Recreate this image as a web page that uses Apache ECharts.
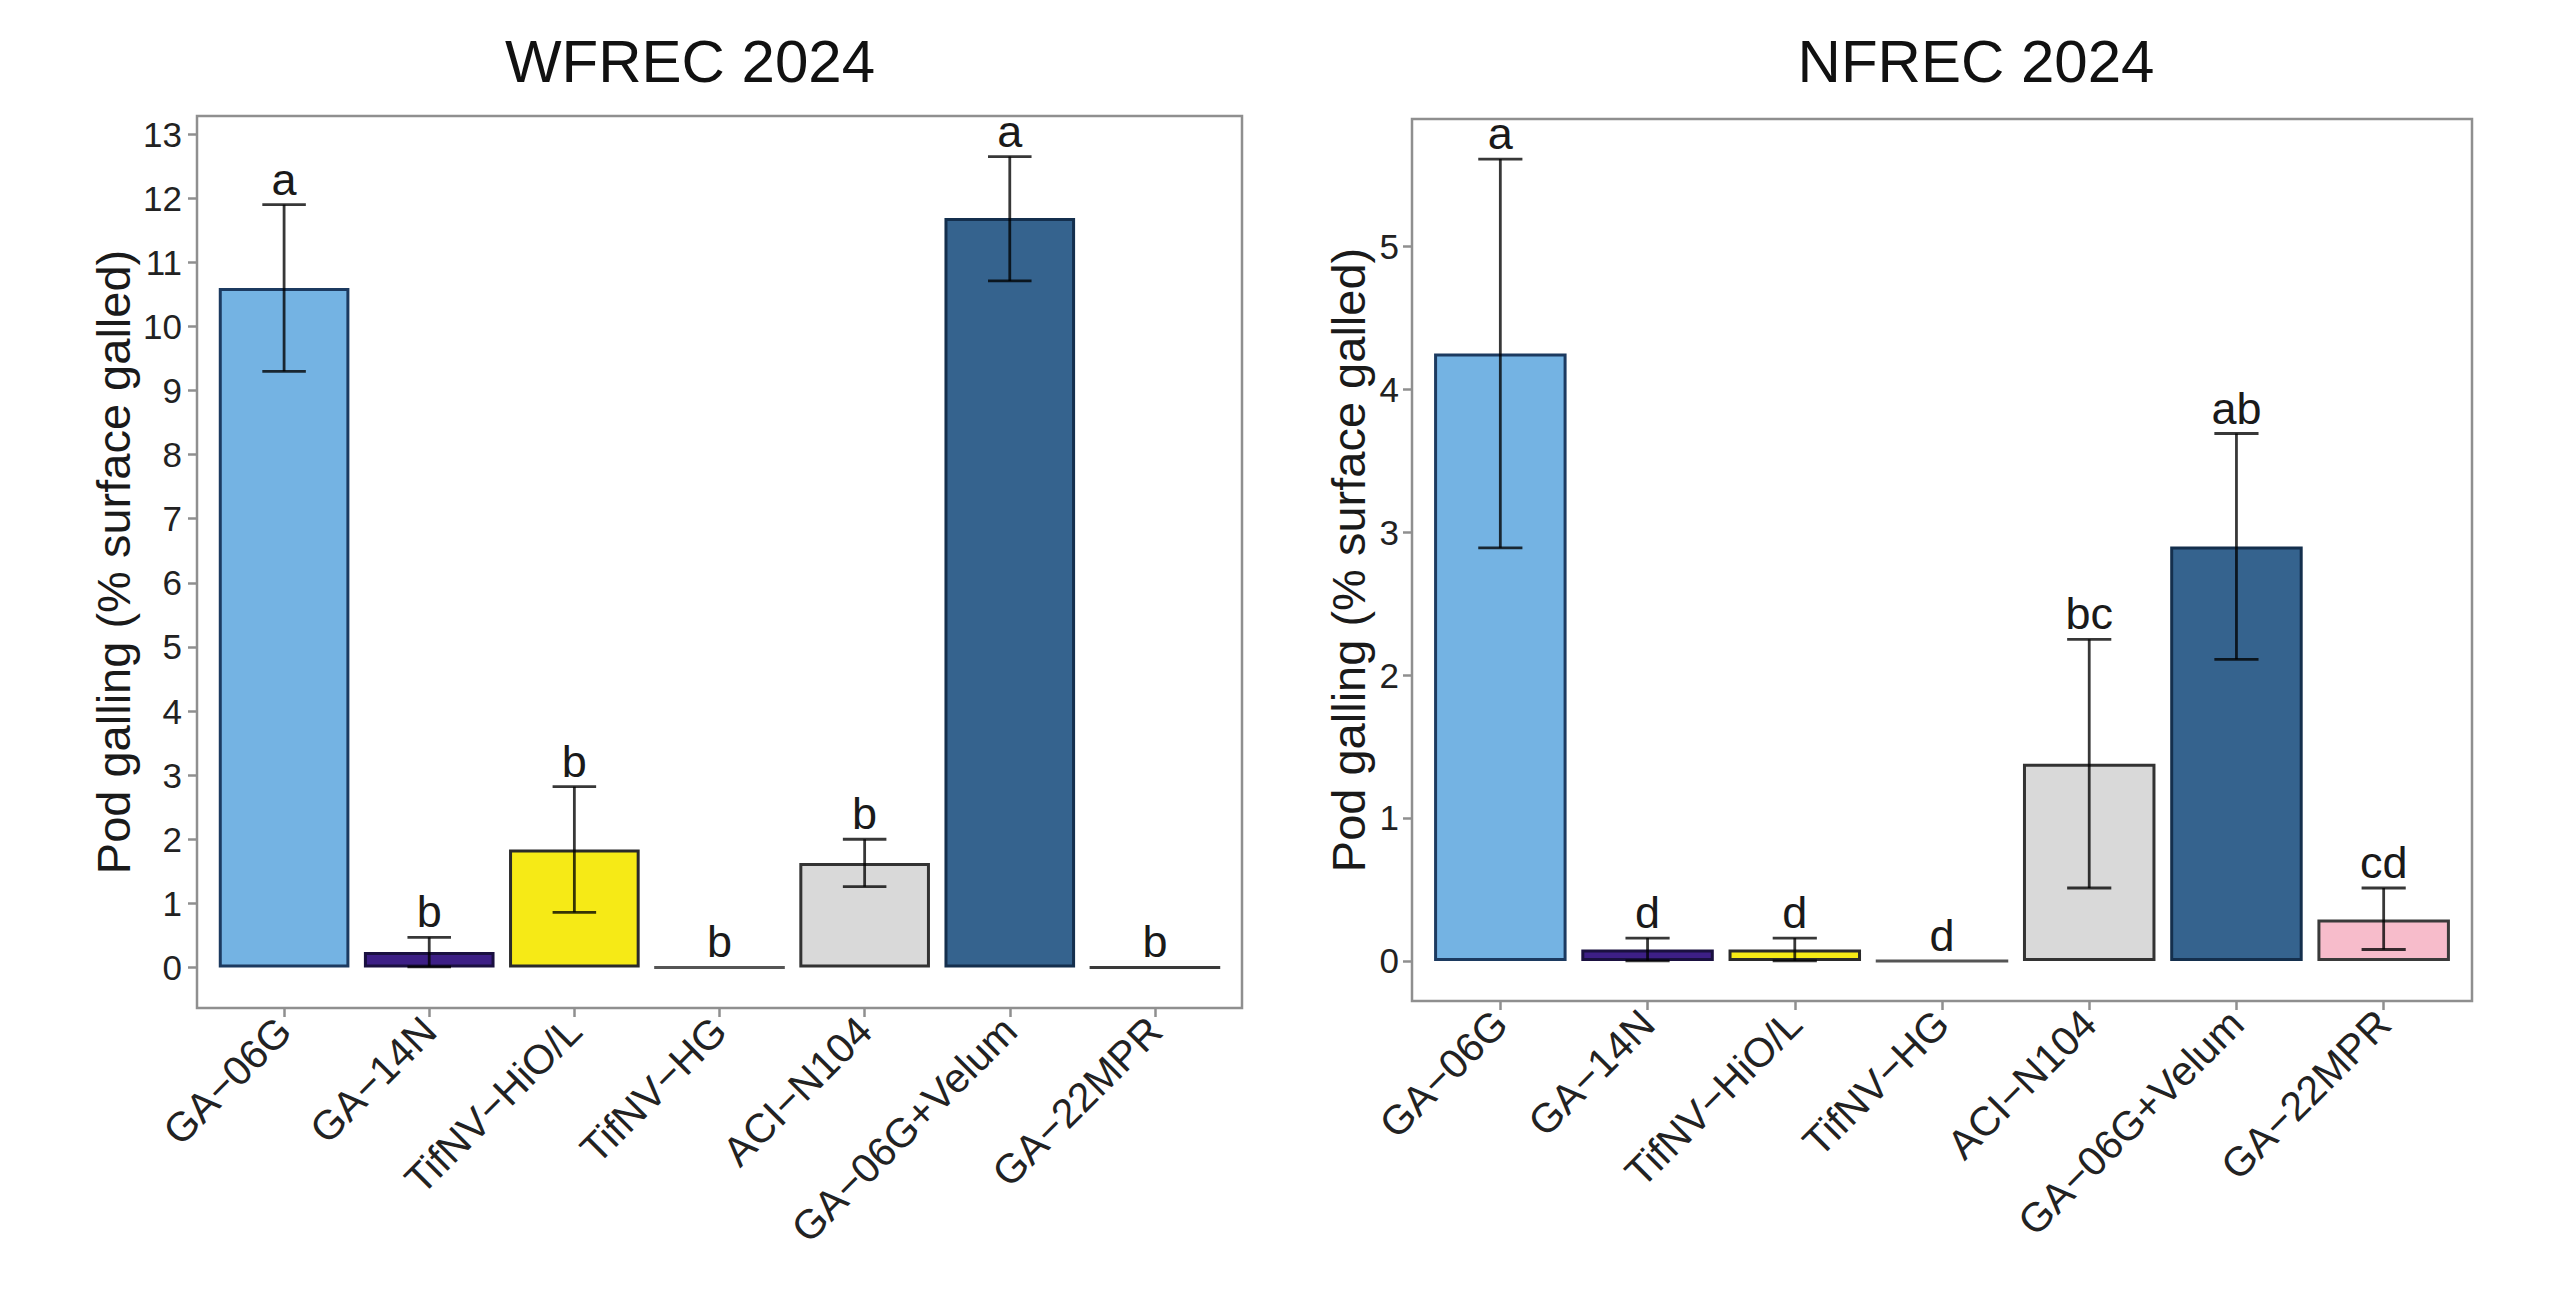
<!DOCTYPE html>
<html>
<head>
<meta charset="utf-8">
<script src="https://cdn.jsdelivr.net/npm/echarts@6/dist/echarts.min.js"></script>
<style>
html,body{margin:0;padding:0;background:#ffffff;}
#chart{width:2560px;height:1289px;}
</style>
</head>
<body>
<div id="chart"></div>
<script>
// ---- data ----
const categories = ['GA\u221206G', 'GA\u221214N', 'TifNV\u2212HiO/L', 'TifNV\u2212HG', 'ACI\u2212N104', 'GA\u221206G+Velum', 'GA\u221222MPR'];

const wfrecMean    = [10.6, 0.24, 1.84, 0, 1.63, 11.69, 0];
const wfrecUpper   = [11.9, 0.47, 2.82, 0, 2.00, 12.65, 0];
const wfrecLower   = [9.3, 0.01, 0.86, 0, 1.26, 10.71, 0];
const wfrecLetters = ['a', 'b', 'b', 'b', 'b', 'a', 'b'];
const wfrecTicks   = [0, 1, 2, 3, 4, 5, 6, 7, 8, 9, 10, 11, 12, 13];

const nfrecMean    = [4.25, 0.08, 0.08, 0, 1.38, 2.90, 0.29];
const nfrecUpper   = [5.61, 0.16, 0.16, 0, 2.25, 3.69, 0.51];
const nfrecLower   = [2.89, 0.00, 0.00, 0, 0.51, 2.11, 0.08];
const nfrecLetters = ['a', 'd', 'd', 'd', 'bc', 'ab', 'cd'];
const nfrecTicks   = [0, 1, 2, 3, 4, 5];

const panelTitles = ['WFREC 2024', 'NFREC 2024'];
const yTitle = 'Pod galling (% surface galled)';

// ---- styles ----
const fills   = ['#74b3e3', '#3d1f86', '#f6ea16', '#d9d9d9', '#d9d9d9', '#35638e', '#f7bccb'];
const borders = ['#1c3a60', '#1a1040', '#2a2a2a', '#555555', '#333333', '#142f4d', '#3a3a3a'];
const FONT = '"Liberation Sans", Arial, Helvetica, sans-serif';
const BOX = '#8f8f8f';

function range(upper) {
  const top = Math.max.apply(null, upper);
  const pad = top * 0.05;
  return [-pad, top + pad];
}

const catIdx = categories.map((c, i) => i);

const panels = [
  {mean: wfrecMean, upper: wfrecUpper, lower: wfrecLower, letters: wfrecLetters, ticks: wfrecTicks,
   grid: {left: 197, top: 116, width: 1045, height: 892}, nameGap: 60, labelMargin: 15},
  {mean: nfrecMean, upper: nfrecUpper, lower: nfrecLower, letters: nfrecLetters, ticks: nfrecTicks,
   grid: {left: 1412, top: 119, width: 1060, height: 882}, nameGap: 40, labelMargin: 13}
];

const grids = [], xAxes = [], yAxes = [], series = [];

panels.forEach((p, gi) => {
  grids.push(Object.assign({
    show: true, borderColor: BOX, borderWidth: 2.5, backgroundColor: 'transparent',
    containLabel: false, outerBoundsMode: 'none'
  }, p.grid));

  xAxes.push({
    gridIndex: gi, type: 'value', min: -0.6, max: categories.length - 1 + 0.6,
    axisLine: {show: false, onZero: false},
    splitLine: {show: false},
    axisTick: {show: true, customValues: catIdx, length: 9, lineStyle: {color: BOX, width: 2.5}},
    axisLabel: {
      customValues: catIdx, formatter: v => categories[Math.round(v)],
      rotate: 45, fontSize: 41, color: '#222', margin: 16, fontFamily: FONT
    }
  });

  const r = range(p.upper);
  yAxes.push({
    gridIndex: gi, type: 'value', min: r[0], max: r[1],
    axisLine: {show: false, onZero: false},
    splitLine: {show: false},
    axisTick: {show: true, customValues: p.ticks, length: 9, lineStyle: {color: BOX, width: 2.5}},
    axisLabel: {customValues: p.ticks, fontSize: 35, color: '#222', margin: p.labelMargin, fontFamily: FONT},
    name: yTitle, nameLocation: 'middle', nameRotate: 90, nameGap: p.nameGap,
    nameTextStyle: {fontSize: 47, color: '#1a1a1a', fontFamily: FONT}
  });

  series.push({
    type: 'bar', xAxisIndex: gi, yAxisIndex: gi, barWidth: '90%', z: 2,
    data: p.mean.map((v, k) => ({
      value: [k, v],
      itemStyle: {color: fills[k], borderColor: borders[k], borderWidth: 3}
    })),
    animation: false
  });

  const letters = p.letters;
  series.push({
    type: 'custom', xAxisIndex: gi, yAxisIndex: gi, z: 5,
    data: p.mean.map((v, k) => [k, p.lower[k], p.upper[k]]),
    renderItem: function (params, api) {
      const x = api.value(0), lo = api.value(1), hi = api.value(2);
      const pHi = api.coord([x, hi]);
      const pLo = api.coord([x, lo]);
      const half = api.size([0.3, 0])[0] / 2;
      const ls = {stroke: 'rgba(0,0,0,0.78)', lineWidth: 2.8};
      const children = [];
      if (hi > lo) {
        children.push({type: 'line', shape: {x1: pHi[0], y1: pHi[1], x2: pLo[0], y2: pLo[1]}, style: ls});
        children.push({type: 'line', shape: {x1: pHi[0] - half, y1: pHi[1], x2: pHi[0] + half, y2: pHi[1]}, style: ls});
        children.push({type: 'line', shape: {x1: pLo[0] - half, y1: pLo[1], x2: pLo[0] + half, y2: pLo[1]}, style: ls});
      }
      children.push({
        type: 'text', x: pHi[0], y: pHi[1] - 3,
        style: {text: letters[params.dataIndex], fontSize: 45, fontFamily: FONT, fill: '#1a1a1a',
                align: 'center', verticalAlign: 'bottom'}
      });
      return {type: 'group', children: children};
    },
    animation: false
  });
});

const chart = echarts.init(document.getElementById('chart'), null, {renderer: 'svg'});
chart.setOption({
  backgroundColor: '#ffffff',
  animation: false,
  textStyle: {fontFamily: FONT},
  title: [
    {text: panelTitles[0], left: 685, top: 26, textAlign: 'center',
     textStyle: {fontSize: 60, fontWeight: 'normal', color: '#111', fontFamily: FONT}},
    {text: panelTitles[1], left: 1971, top: 26, textAlign: 'center',
     textStyle: {fontSize: 60, fontWeight: 'normal', color: '#111', fontFamily: FONT}}
  ],
  grid: grids,
  xAxis: xAxes,
  yAxis: yAxes,
  series: series
});
</script>
</body>
</html>
